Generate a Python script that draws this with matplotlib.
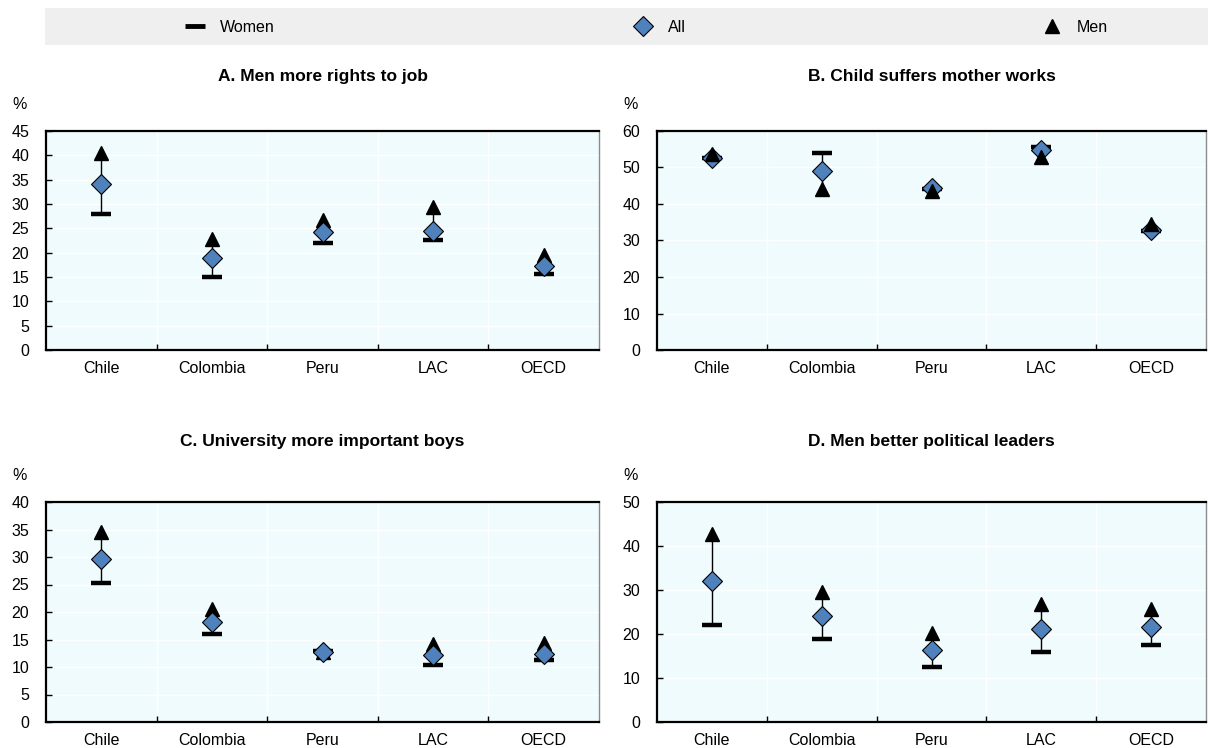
import matplotlib.pyplot as plt
import matplotlib.patches as mpatches
from matplotlib.lines import Line2D
import numpy as np

plt.rcParams['font.family'] = ['Liberation Sans', 'DejaVu Sans']

countries = ['Chile', 'Colombia', 'Peru', 'LAC', 'OECD']

titles = ['A. Men more rights to job', 'B. Child suffers mother works',
          'C. University more important boys', 'D. Men better political leaders']

# share agreeing, %
women_a = [28.0, 15.0, 22.0, 22.5, 15.6]
all_a = [34.2, 18.9, 24.3, 24.5, 17.2]
men_a = [40.5, 22.8, 26.8, 29.3, 19.5]

women_b = [52.5, 54.0, 44.0, 55.5, 32.5]
all_b = [52.6, 49.0, 44.5, 54.8, 33.0]
men_b = [53.8, 44.0, 43.5, 53.0, 34.5]

women_c = [25.3, 16.0, 13.0, 10.3, 11.2]
all_c = [29.7, 18.2, 12.8, 12.2, 12.4]
men_c = [34.5, 20.5, 12.7, 14.2, 14.3]

women_d = [22.0, 18.8, 12.4, 15.8, 17.6]
all_d = [32.0, 24.2, 16.3, 21.1, 21.5]
men_d = [42.8, 29.5, 20.3, 26.8, 25.6]

y_ticks = [np.arange(0, 46, 5), np.arange(0, 61, 10), np.arange(0, 41, 5), np.arange(0, 51, 10)]

BLUE = '#4f81bd'
FACE = '#effbfd'

W, H = 1208, 748
fig = plt.figure(figsize=(W / 100, H / 100), dpi=100)


def box(l, t, r, b):
    return [l / W, 1 - b / H, (r - l) / W, (b - t) / H]


positions = [box(46, 131, 599, 350), box(657, 131, 1206, 350),
             box(46, 502, 599, 722), box(657, 502, 1206, 722)]
title_pads = [36, 36, 40, 40]
men_on_top = [False, True, False, False]

series = [(women_a, all_a, men_a), (women_b, all_b, men_b),
          (women_c, all_c, men_c), (women_d, all_d, men_d)]

x = np.arange(len(countries))

for pos, pad, top, title, (women, total, men), ticks in zip(
        positions, title_pads, men_on_top, titles, series, y_ticks):
    ax = fig.add_axes(pos)
    ax.set_facecolor(FACE)
    ax.set_xlim(-0.5, len(countries) - 0.5)
    ax.set_ylim(0, ticks[-1])
    ax.set_yticks(ticks)
    ax.set_xticks(x)
    ax.set_xticklabels(countries)
    ax.set_xticks(x[:-1] + 0.5, minor=True)
    ax.grid(True, axis='y', color='white', lw=1)
    ax.grid(True, axis='x', which='minor', color='white', lw=1)
    ax.set_axisbelow(True)
    ax.tick_params(axis='x', which='major', length=0, labelsize=11.5, pad=8)
    ax.tick_params(axis='x', which='minor', direction='in', length=4, width=1)
    ax.tick_params(axis='y', direction='in', length=4, width=1, labelsize=11.5, pad=12)
    for side, sp in ax.spines.items():
        sp.set_color('black')
        sp.set_linewidth(1.6 if side in ('left', 'bottom', 'top') else 1.0)
    ax.spines['right'].set_color('#8c8c8c')

    # women-to-men range, then markers
    ax.vlines(x, women, men, color='black', lw=1, zorder=2)
    ax.plot(x, women, ls='none', marker='_', ms=15, mew=3.2, color='black', zorder=3)
    ax.plot(x, total, ls='none', marker='D', ms=10, mfc=BLUE, mec='black', mew=0.8, zorder=5)
    ax.plot(x, men, ls='none', marker='^', ms=10, color='black', zorder=6 if top else 4)

    ax.set_title(title, fontsize=12.5, fontweight='bold', pad=pad)
    ax.annotate('%', xy=(0, 1), xycoords='axes fraction', xytext=(-26, 26),
                textcoords='offset pixels', fontsize=11.5, ha='center', va='center')

# legend band
fig.patches.append(mpatches.Rectangle((45 / W, 1 - 45 / H), 1 - 45 / W, 37 / H,
                                      transform=fig.transFigure, facecolor='#efefef',
                                      edgecolor='none', zorder=0))

handles = [Line2D([], [], ls='none', marker='_', ms=15, mew=3.5, color='black'),
           Line2D([], [], ls='none', marker='D', ms=10, mfc=BLUE, mec='black', mew=0.8),
           Line2D([], [], ls='none', marker='^', ms=10, color='black')]
labels = ['Women', 'All', 'Men']
anchors = [185, 633, 1042]
for h, lab, px in zip(handles, labels, anchors):
    fig.legend(handles=[h], labels=[lab], loc='center left',
               bbox_to_anchor=(px / W, 1 - 27 / H), frameon=False, fontsize=11.5,
               borderpad=0, borderaxespad=0, handlelength=1.3, handletextpad=0.9)

fig.savefig('out.png', dpi=100)
